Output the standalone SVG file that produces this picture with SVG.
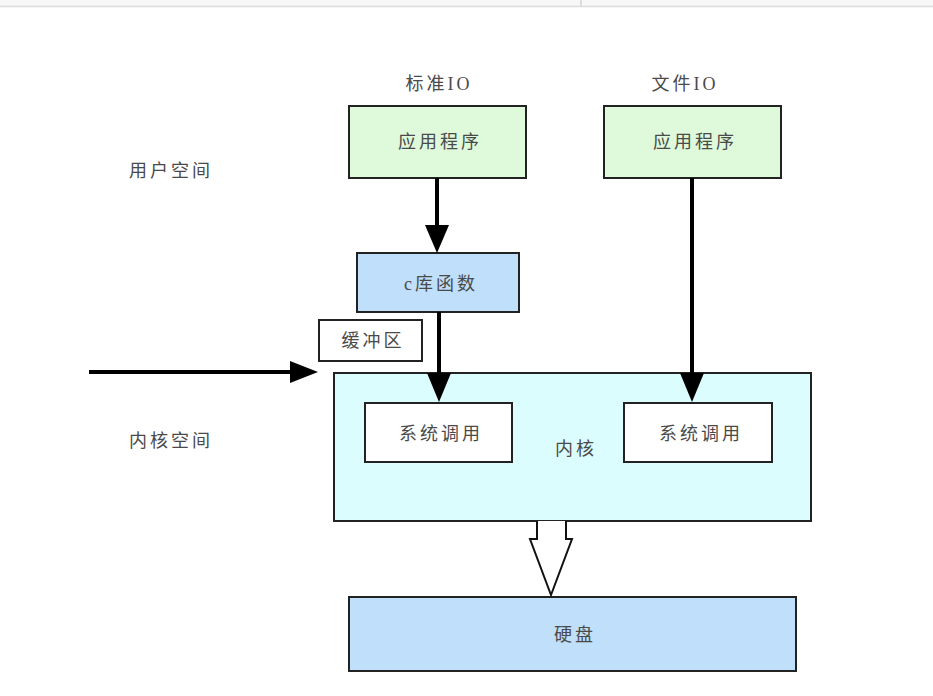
<svg xmlns="http://www.w3.org/2000/svg" width="933" height="696" viewBox="0 0 933 696">
<defs>
<style>
.t{font-family:"Liberation Serif","Noto Sans CJK SC",serif;font-size:18px;fill:#4a4a4a;text-anchor:middle;letter-spacing:3px}
.box{stroke:#222;stroke-width:2}
.ln{stroke:#000;stroke-width:4;fill:none}
</style>
</defs>
<rect x="0" y="0" width="933" height="6" fill="#f7f7f7"/>
<line x1="0" y1="6.5" x2="933" y2="6.5" stroke="#dcdcdc" stroke-width="1.5"/>
<line x1="581" y1="0" x2="581" y2="6" stroke="#d4d4d4" stroke-width="1.5"/>
<g id="lbl-user"><text class="t" x="171" y="177">用户空间</text></g>
<g id="lbl-kernel"><text class="t" x="171" y="447">内核空间</text></g>
<g id="lbl-std"><text class="t" x="439" y="90">标准IO</text></g>
<g id="lbl-file"><text class="t" x="685" y="90">文件IO</text></g>
<g id="app1"><rect class="box" x="349" y="106" width="177" height="72" fill="#dffadb"/><text class="t" x="440" y="148">应用程序</text></g>
<g id="app2"><rect class="box" x="604" y="106" width="177" height="72" fill="#dffadb"/><text class="t" x="695" y="148">应用程序</text></g>
<g id="clib"><rect class="box" x="357" y="253" width="162" height="59" fill="#bfdffb"/><text class="t" x="441" y="290">c库函数</text></g>
<g id="buffer"><rect class="box" x="319" y="320" width="103" height="41" fill="#fff"/><text class="t" x="373" y="347">缓冲区</text></g>
<g id="kernel"><rect class="box" x="334" y="373" width="477" height="148" fill="#dcfdfe"/><text class="t" x="576" y="455">内核</text></g>
<g id="sys1"><rect class="box" x="365" y="403" width="147" height="59" fill="#fff"/><text class="t" x="441" y="440">系统调用</text></g>
<g id="sys2"><rect class="box" x="624" y="403" width="148" height="59" fill="#fff"/><text class="t" x="701" y="440">系统调用</text></g>
<g id="disk"><rect class="box" x="349" y="597" width="447" height="74" fill="#bfdffb"/><text class="t" x="575" y="641">硬盘</text></g>
<g id="connectors">
<line class="ln" x1="437" y1="178" x2="437" y2="225"/><path d="M425,225 L449,225 L437,253 Z" fill="#000"/>
<line class="ln" x1="439" y1="312" x2="439" y2="374"/><path d="M427,373 L451,373 L439,402 Z" fill="#000"/>
<line class="ln" x1="692" y1="178" x2="692" y2="374"/><path d="M680,373 L704,373 L692,402 Z" fill="#000"/>
<line class="ln" x1="89" y1="372" x2="292" y2="372"/><path d="M290,361 L318,372 L290,383 Z" fill="#000"/>
<path d="M537,521 L537,539 L530,539 L551,595 L572,539 L566,539 L566,521" fill="#fff" stroke="#111" stroke-width="2"/>
</g>
</svg>
